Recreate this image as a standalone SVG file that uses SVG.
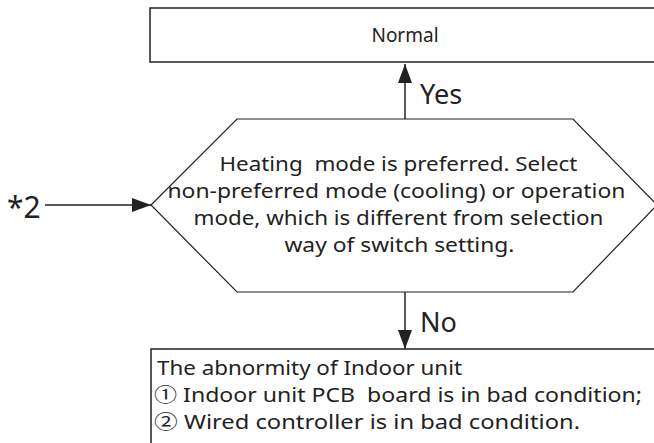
<svg xmlns="http://www.w3.org/2000/svg" width="654" height="443" viewBox="0 0 654 443">
<defs>
<style>
.t{font-family:"Noto Sans","Noto Sans CJK SC","DejaVu Sans",sans-serif;fill:#222;white-space:pre}
.box{fill:#fff;stroke:#222;stroke-width:1.5}
.hex{fill:#fff;stroke:#222;stroke-width:1.2}
.conn{stroke:#222;stroke-width:1.5;fill:none}
</style>
<marker id="ah" markerUnits="userSpaceOnUse" markerWidth="19" markerHeight="14" refX="19" refY="7" orient="auto">
<path d="M0,0 L19,7 L0,14 z" fill="#222"/>
</marker>
</defs>
<rect width="654" height="443" fill="#fff"/>
<g id="normal">
<rect class="box" x="150" y="8" width="520" height="54"/>
<text class="t" x="405" y="42" font-size="19" text-anchor="middle">Normal</text>
</g>
<g id="decision">
<polygon class="hex" points="151,205 237,119 573,119 657,205 573,292 237,292"/>
<text class="t" font-size="19.5" text-anchor="middle">
<tspan x="401" y="171" textLength="358" lengthAdjust="spacingAndGlyphs">Heating  mode is preferred. Select</tspan>
<tspan x="399" y="198" textLength="458" lengthAdjust="spacingAndGlyphs">non-preferred mode (cooling) or operation</tspan>
<tspan x="401" y="225" textLength="410" lengthAdjust="spacingAndGlyphs">mode, which is different from selection</tspan>
<tspan x="402" y="252" textLength="230" lengthAdjust="spacingAndGlyphs">way of switch setting.</tspan>
</text>
</g>
<g id="abnormal">
<rect class="box" x="151" y="349" width="520" height="110"/>
<text class="t" font-size="19.5">
<tspan x="157" y="375" textLength="305" lengthAdjust="spacingAndGlyphs">The abnormity of Indoor unit</tspan>
<tspan x="154" y="402" textLength="488" lengthAdjust="spacingAndGlyphs">① Indoor unit PCB  board is in bad condition;</tspan>
<tspan x="154" y="429" textLength="426" lengthAdjust="spacingAndGlyphs">② Wired controller is in bad condition.</tspan>
</text>
</g>
<g id="start">
<text class="t" x="7" y="218" font-size="30">*2</text>
</g>
<g id="connectors">
<line class="conn" x1="405" y1="119" x2="405" y2="64" marker-end="url(#ah)"/>
<line class="conn" x1="405" y1="292" x2="405" y2="349" marker-end="url(#ah)"/>
<line class="conn" x1="45" y1="205" x2="151" y2="205" marker-end="url(#ah)"/>
<text class="t" x="420" y="104" font-size="27">Yes</text>
<text class="t" x="420" y="332" font-size="27">No</text>
</g>
</svg>
